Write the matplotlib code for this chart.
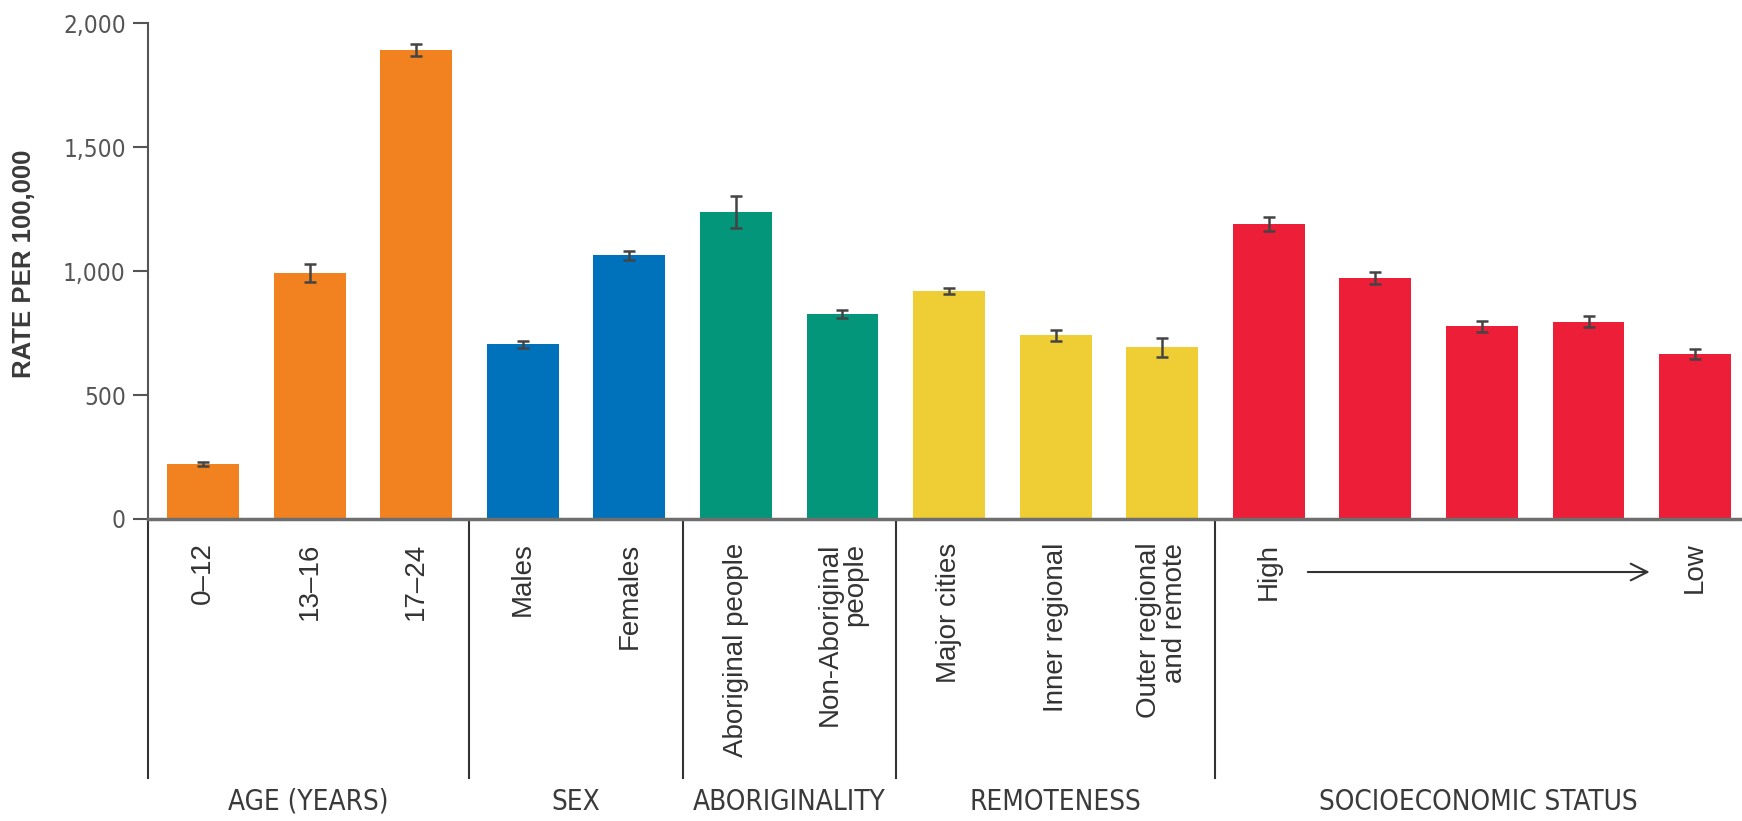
import matplotlib
matplotlib.use("Agg")
import matplotlib.pyplot as plt
from matplotlib import font_manager
import numpy as np

# values (rate per 100,000)
categories = ["0–12", "13–16", "17–24",
              "Males", "Females",
              "Aboriginal people", "Non-Aboriginal\npeople",
              "Major cities", "Inner regional", "Outer regional\nand remote",
              "High", "", "", "", "Low"]
rates = [222, 993, 1893, 705, 1065, 1240, 828, 920, 742, 693, 1190, 972, 777, 797, 665]
errors = [8, 35, 25, 15, 18, 65, 15, 13, 22, 38, 28, 25, 22, 22, 20]

groups = ["AGE (YEARS)", "SEX", "ABORIGINALITY", "REMOTENESS", "SOCIOECONOMIC STATUS"]
group_sizes = [3, 2, 2, 3, 5]
group_colors = ["#F28220", "#0072BB", "#03967A", "#EFCD35", "#EC1E38"]

plt.rcParams["font.family"] = ["Liberation Sans", "DejaVu Sans"]

# pick an upright condensed face for the numbers and group titles
cond = [f for f in font_manager.fontManager.ttflist
        if ("Narrow" in f.name or "Condensed" in f.name
            or f.stretch in ("condensed", "semi-condensed"))
        and f.style == "normal" and f.weight in (400, "normal", "regular")]
cond.sort(key=lambda f: f.fname)
if cond:
    narrow_fp = font_manager.FontProperties(fname=cond[0].fname)
else:
    narrow_fp = font_manager.FontProperties(family="DejaVu Sans", stretch="condensed")

x = np.arange(len(rates))
colors = []
for c, n in zip(group_colors, group_sizes):
    colors += [c] * n

fig = plt.figure(figsize=(17.42, 8.21), dpi=100)
ax = fig.add_axes([148 / 1742, 1 - 519 / 821, 1 - 148 / 1742, (519 - 23.5) / 821])

ax.bar(x, rates, width=0.675, color=colors, zorder=2)
ax.errorbar(x, rates, yerr=errors, fmt="none", ecolor="#444444",
            elinewidth=1.8, capsize=4.3, capthick=1.8, zorder=3)

xmin, xmax = -0.516, 14.44
ax.set_xlim(xmin, xmax)
ax.set_ylim(0, 2000)

for s in ["top", "right"]:
    ax.spines[s].set_visible(False)
ax.spines["bottom"].set_color("#6e6e6e")
ax.spines["bottom"].set_linewidth(2.5)
ax.spines["left"].set_color("#555555")
ax.spines["left"].set_linewidth(1.5)

ax.set_yticks([0, 500, 1000, 1500, 2000])
ax.set_yticklabels([f"{v:,}" for v in [0, 500, 1000, 1500, 2000]], color="#555555")
for t in ax.get_yticklabels():
    t.set_fontproperties(narrow_fp)
    t.set_fontsize(17.5)
ax.tick_params(axis="y", length=11, width=1.5, color="#555555", pad=5)

ax.set_xticks(x)
ax.set_xticklabels(categories, rotation=90, ha="center", va="top",
                   multialignment="right", linespacing=1.0,
                   fontsize=20, color="#333333")
ax.tick_params(axis="x", length=0, pad=17)

# group dividers below the axis
trans = ax.get_xaxis_transform()
bounds = np.cumsum([0] + group_sizes) - 0.5
bounds[0] = xmin
for b in bounds[:-1]:
    ax.plot([b, b], [0, -0.523], transform=trans, color="#333333",
            lw=1.5, clip_on=False)

edges = list(bounds[:-1]) + [xmax]
for i, g in enumerate(groups):
    t = ax.text((edges[i] + edges[i + 1]) / 2, -0.571, g, transform=trans,
                ha="center", va="center", color="#3a3a3a", fontproperties=narrow_fp)
    t.set_fontsize(20)

# high -> low arrow for socioeconomic status
ax.annotate("", xy=(13.6, -0.107), xytext=(10.34, -0.107),
            xycoords=trans, textcoords=trans,
            arrowprops=dict(arrowstyle="->", color="#333333", lw=1.5,
                            mutation_scale=30))

fig.text(24 / 1742, 1 - 264 / 821, "RATE PER 100,000", rotation=90,
         ha="center", va="center", fontsize=18.5, fontweight="bold", color="#3a3a3a")

fig.savefig("out.png", dpi=100)
